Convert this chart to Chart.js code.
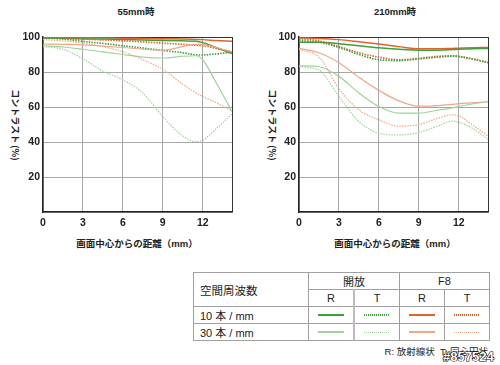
<!DOCTYPE html>
<html>
<head>
<meta charset="utf-8">
<script src="https://cdn.jsdelivr.net/npm/chart.js@4.4.1/dist/chart.umd.min.js"></script>
<style>
  body { margin: 0; width: 500px; height: 365px; position: relative; overflow: hidden; background: #fff;
         font-family: "Liberation Sans", "Noto Sans CJK JP", sans-serif; color: #222; }
  .abs { position: absolute; white-space: nowrap; }
  .ctr { transform: translateX(-50%); }
  .title { font-size: 9.5px; font-weight: bold; top: 4px; }
  .xlab { font-size: 9.5px; font-weight: bold; top: 236px; }
  .ylab { font-family: "Noto Sans CJK JP", sans-serif; font-size: 9px; font-weight: bold; line-height: 10px;
          top: 120px; width: 90px; text-align: center; transform: translateX(-50%) rotate(90deg); }
  #tbl { position: absolute; left: 193px; top: 272px; border-collapse: collapse; font-size: 11px; }
  #tbl td { border: 1px solid #a0a0a0; padding: 0; text-align: center; height: 16px; }
  #tbl td.lft { text-align: left; padding-left: 6px; }
  .ln { width: 26px; height: 2px; margin: 0 auto; }
  .note { font-size: 9.5px; right: 12px; top: 344px; }
  .stamp { font-size: 13px; font-weight: bold; color: #fff; -webkit-text-stroke: 1.2px #000; paint-order: stroke fill; left: 443px; top: 349px; }
</style>
</head>
<body>

<div class="abs ctr title" style="left:136px">55mm時</div>
<div class="abs ctr title" style="left:395px">210mm時</div>
<div class="abs ylab" style="left:15px">コントラスト (%)</div>
<div class="abs ylab" style="left:272px">コントラスト (%)</div>
<div class="abs ctr xlab" style="left:137px">画面中心からの距離（mm）</div>
<div class="abs ctr xlab" style="left:395px">画面中心からの距離（mm）</div>

<canvas id="chart55" class="abs" style="left:0;top:0" width="245" height="235"></canvas>
<canvas id="chart210" class="abs" style="left:250px;top:0" width="245" height="235"></canvas>

<table id="tbl">
  <tr>
    <td class="lft" rowspan="2" style="width:108px;font-size:11.5px">空間周波数</td>
    <td colspan="2" style="height:16px">開放</td>
    <td colspan="2">F8</td>
  </tr>
  <tr>
    <td style="width:44px;border-right:2px solid #bbb">R</td><td style="width:44px">T</td>
    <td style="width:44px">R</td><td style="width:44px">T</td>
  </tr>
  <tr>
    <td class="lft">10 本 / mm</td>
    <td style="border-right:2px solid #bbb"><div class="ln" id="l10r"></div></td><td><div class="ln" id="l10t"></div></td>
    <td><div class="ln" id="f10r"></div></td><td><div class="ln" id="f10t"></div></td>
  </tr>
  <tr>
    <td class="lft">30 本 / mm</td>
    <td style="border-right:2px solid #bbb"><div class="ln" id="l30r"></div></td><td><div class="ln" id="l30t"></div></td>
    <td><div class="ln" id="f30r"></div></td><td><div class="ln" id="f30t"></div></td>
  </tr>
</table>
<div class="abs note">R: 放射線状&nbsp; T: 同心円状</div>
<div class="abs stamp">#857524</div>

<script>
// distance from image centre (mm), shared by every curve
const xs = [0, 1.5, 3, 4.5, 6, 7.5, 9, 10.5, 11.5, 12, 13, 14.2];
const xTicks = [0, 3, 6, 9, 12];
const xMax = 14.2;

// 55mm
const w55_open10R = [99.5, 99.3, 99, 98.8, 98.5, 98.3, 98, 97.8, 97.6, 96.8, 94, 90.5];
const w55_open10T = [99.5, 98.8, 97.5, 96.3, 95, 93.7, 92.3, 91, 89.8, 89.7, 90.3, 91.3];
const w55_open30R = [95, 94.3, 93, 91.5, 90, 88.5, 88, 89, 89.3, 87, 74, 57.5];
const w55_open30T = [94.5, 93, 87.5, 80.5, 75.5, 68, 54.5, 43.5, 40.2, 41, 47.5, 56];
const w55_f8_10R = [99.8, 99.7, 99.6, 99.5, 99.3, 99.2, 99, 98.8, 98.6, 98.5, 98, 97.5];
const w55_f8_10T = [99.5, 99.2, 98.8, 98.3, 97.8, 97.2, 96.5, 95.8, 95.2, 95, 93.5, 91.5];
const w55_f8_30R = [96, 95.8, 95.5, 94.8, 94, 93, 92.5, 94.5, 95.8, 95.6, 94, 91.5];
const w55_f8_30T = [98.5, 97.8, 96.5, 94.5, 91.5, 87, 81.5, 73, 68, 66, 62.5, 58];

// 210mm
const t210_open10R = [97, 97, 96.2, 95, 93.8, 93, 92.5, 92.5, 92.8, 93, 93.3, 93.5];
const t210_open10T = [98, 97, 94, 90, 87, 86.5, 87.5, 88.5, 89, 88.8, 87.5, 85.3];
const t210_open30R = [83.5, 83, 77.5, 68, 60.3, 56.5, 56.5, 58.3, 59.5, 60.3, 61.7, 63];
const t210_open30T = [83, 81, 66, 51.7, 45, 44, 45.5, 49.3, 52, 51.3, 48, 41.5];
const t210_f8_10R = [99.5, 99.2, 98.5, 97.3, 96, 94.5, 93.3, 93.3, 93.5, 93.6, 93.8, 94];
const t210_f8_10T = [99, 97.8, 94.5, 91, 88.5, 87, 87.8, 89, 89.3, 89, 87.5, 85.5];
const t210_f8_30R = [93.5, 91, 85.3, 77, 69.5, 63.5, 60.5, 60.8, 61.5, 61.9, 62.4, 63];
const t210_f8_30T = [93, 88.5, 70.5, 58.4, 52.7, 49, 50, 53.7, 55.6, 55, 50, 43.3];

const green10 = '#3f9f3a';
const green30 = '#9fd398';
const orange10 = '#e0622c';
const orange30 = '#eea886';

function pts(ys) {
  return xs.map((x, i) => ({x: x, y: ys[i]}));
}

function line(ys, color, dotted, width) {
  return {
    data: pts(ys),
    borderColor: color,
    borderWidth: width,
    borderDash: dotted ? [1.5, 1.2] : [],
    fill: false,
    pointRadius: 0,
    cubicInterpolationMode: 'monotone'
  };
}

function renderChart(id, s, yWidth, rightPad) {
  const tickFont = {family: '"Liberation Sans", Arial, sans-serif', size: 10.5, weight: 'bold'};
  new Chart(document.getElementById(id), {
    type: 'line',
    data: {
      datasets: [
        line(s[3], green30, true, 1.2),
        line(s[7], orange30, true, 1.2),
        line(s[2], green30, false, 1.2),
        line(s[6], orange30, false, 1.2),
        line(s[1], green10, true, 1.6),
        line(s[5], orange10, true, 1.6),
        line(s[0], green10, false, 1.5),
        line(s[4], orange10, false, 1.5)
      ]
    },
    options: {
      responsive: false,
      animation: false,
      layout: {padding: {top: 37, right: rightPad, bottom: 0, left: 0}},
      plugins: {legend: {display: false}, tooltip: {enabled: false}},
      scales: {
        x: {
          type: 'linear', min: 0, max: xMax,
          afterBuildTicks: sc => { sc.ticks = xTicks.concat([xMax]).map(v => ({value: v})); },
          ticks: {padding: 5, maxRotation: 0, autoSkip: false, color: '#222', font: tickFont,
                  callback: v => (xTicks.includes(v) ? v : '')},
          grid: {drawTicks: false, color: c => (c.tick && c.tick.value === xMax) ? '#333' : '#a8a8a8'},
          border: {color: '#222', width: 1.5},
          afterFit: sc => { sc.height = 23; }
        },
        y: {
          min: 0, max: 100,
          ticks: {stepSize: 20, padding: 3, color: '#222', font: tickFont,
                  callback: v => (v === 0 ? '' : v)},
          grid: {drawTicks: false, color: c => (c.tick && c.tick.value === 100) ? '#333' : '#a8a8a8'},
          border: {color: '#222', width: 1.5},
          afterFit: sc => { sc.width = yWidth; }
        }
      }
    }
  });
}

renderChart('chart55', [w55_open10R, w55_open10T, w55_open30R, w55_open30T,
                        w55_f8_10R, w55_f8_10T, w55_f8_30R, w55_f8_30T], 43, 13);
renderChart('chart210', [t210_open10R, t210_open10T, t210_open30R, t210_open30T,
                         t210_f8_10R, t210_f8_10T, t210_f8_30R, t210_f8_30T], 49, 7);

// legend swatches in the table
function swatch(id, color, dotted, h) {
  const el = document.getElementById(id);
  el.style.height = h + 'px';
  el.style.background = dotted
    ? 'repeating-linear-gradient(90deg, ' + color + ' 0 1px, transparent 1px 2px)'
    : color;
}
swatch('l10r', green10, false, 2);
swatch('l10t', green10, true, 2);
swatch('f10r', orange10, false, 2);
swatch('f10t', orange10, true, 2);
swatch('l30r', green30, false, 2);
swatch('l30t', green30, true, 1);
swatch('f30r', orange30, false, 2);
swatch('f30t', orange30, true, 1);
</script>
</body>
</html>
